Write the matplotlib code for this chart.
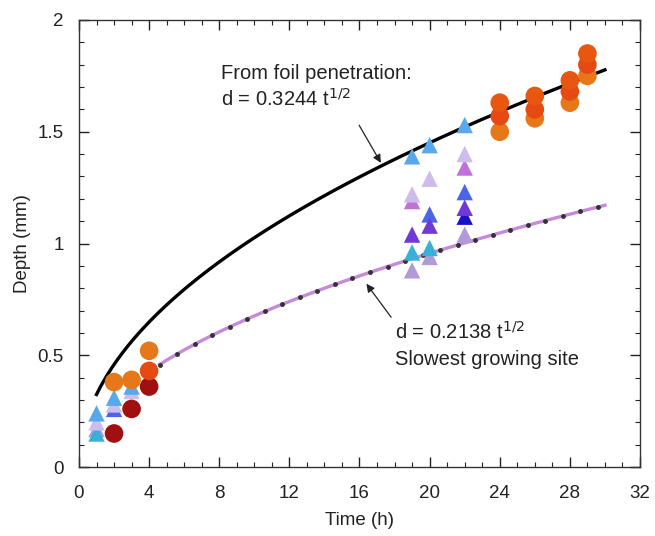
import numpy as np
import matplotlib.pyplot as plt
from matplotlib.ticker import MultipleLocator, FormatStrFormatter

plt.rcParams['font.family'] = ['Liberation Sans', 'DejaVu Sans']

# fit coefficients (d = k * t^1/2)
k_foil = 0.3244
k_slow = 0.2138

# circles (foil data)
circ_dark_t = [2, 3, 4]
circ_dark_d = [0.15, 0.26, 0.36]
circ_red_t = [4, 24, 26, 28, 29]
circ_red_d = [0.43, 1.57, 1.60, 1.68, 1.80]
circ_orange_t = [2, 3, 4, 24, 26, 28, 29]
circ_orange_d = [0.38, 0.39, 0.52, 1.50, 1.56, 1.63, 1.75]
circ_top_t = [24, 26, 28, 29]
circ_top_d = [1.63, 1.66, 1.73, 1.85]

# triangles (site data)
tri_sky_t = [1, 2, 3, 19, 20, 22]
tri_sky_d = [0.24, 0.31, 0.36, 1.39, 1.44, 1.53]
tri_lilac_t = [1, 2, 3, 19, 20, 22]
tri_lilac_d = [0.20, 0.28, 0.34, 1.22, 1.29, 1.40]
tri_orchid_t = [19, 22]
tri_orchid_d = [1.19, 1.34]
tri_violet_t = [19, 20, 22]
tri_violet_d = [1.04, 1.08, 1.16]
tri_blue_t = [2, 20, 22]
tri_blue_d = [0.26, 1.13, 1.23]
tri_navy_t = [22]
tri_navy_d = [1.12]
tri_cyan_t = [1, 19, 20]
tri_cyan_d = [0.15, 0.96, 0.98]
tri_grey_t = [1, 19, 20, 22]
tri_grey_d = [0.17, 0.88, 0.94, 1.04]

fig = plt.figure(figsize=(6.55, 5.36), dpi=100)
ax = fig.add_axes([0.1206, 0.1287, 0.8565, 0.834])

# fitted curves
t1 = np.linspace(1, 30, 200)
ax.plot(t1, k_foil * np.sqrt(t1), color='black', lw=2.4, zorder=2)
t2 = np.linspace(4.6, 30, 200)
ax.plot(t2, k_slow * np.sqrt(t2), color='#c58ad8', lw=2.4, zorder=2)
t3 = np.arange(4.6, 30.1, 1.0)
ax.plot(t3, k_slow * np.sqrt(t3), ls='none', marker='o', ms=2.5,
        color='#333333', zorder=3)

tri = [
    (tri_grey_t, tri_grey_d, '#b09ad8'),
    (tri_cyan_t, tri_cyan_d, '#38b0d8'),
    (tri_navy_t, tri_navy_d, '#1a10c8'),
    (tri_blue_t, tri_blue_d, '#4a66e6'),
    (tri_violet_t, tri_violet_d, '#7038d4'),
    (tri_orchid_t, tri_orchid_d, '#c070d8'),
    (tri_lilac_t, tri_lilac_d, '#cdbcec'),
    (tri_sky_t, tri_sky_d, '#5aa8ec'),
]
for t, d, c in tri:
    ax.scatter(t, d, marker='^', s=140, color=c, edgecolors='none', zorder=4)

circ = [
    (circ_dark_t, circ_dark_d, '#a01010'),
    (circ_orange_t, circ_orange_d, '#e6781a'),
    (circ_red_t, circ_red_d, '#e64a12'),
    (circ_top_t, circ_top_d, '#e8560f'),
]
for t, d, c in circ:
    ax.scatter(t, d, marker='o', s=180, color=c, edgecolors='none', zorder=5)

# annotations
tc = '#222222'
ax.text(8.1, 1.735, 'From foil penetration:', fontsize=14.5, color=tc)
ax.text(8.1, 1.615, 'd = 0.3244 t$^{1/2}$', fontsize=14.5, color=tc)
ax.annotate('', xy=(17.3, 1.35), xytext=(15.9, 1.54),
            arrowprops=dict(arrowstyle='-|>', color=tc, lw=0.9,
                            mutation_scale=12))
ax.text(18.0, 0.575, 'd = 0.2138 t$^{1/2}$', fontsize=14.5, color=tc)
ax.text(18.0, 0.455, 'Slowest growing site', fontsize=14.5, color=tc)
ax.annotate('', xy=(16.3, 0.83), xytext=(17.9, 0.66),
            arrowprops=dict(arrowstyle='-|>', color=tc, lw=0.9,
                            mutation_scale=12))

ax.set_xlim(0, 32)
ax.set_ylim(0, 2)
ax.xaxis.set_major_locator(MultipleLocator(4))
ax.xaxis.set_minor_locator(MultipleLocator(1))
ax.yaxis.set_major_locator(MultipleLocator(0.5))
ax.yaxis.set_minor_locator(MultipleLocator(0.1))
ax.yaxis.set_major_formatter(FormatStrFormatter('%g'))
ax.tick_params(which='both', direction='in', top=True, right=True,
               labelsize=13.5, colors='#222222')
ax.tick_params(which='major', length=7, width=1)
ax.tick_params(axis='x', which='major', pad=13)
ax.tick_params(axis='y', which='major', pad=11)
ax.tick_params(which='minor', length=3.5, width=0.8)
for s in ax.spines.values():
    s.set_linewidth(1.0)
    s.set_color('#333333')

ax.set_xlabel('Time (h)', fontsize=13.5, color=tc, labelpad=7)
ax.set_ylabel('Depth (mm)', fontsize=13.5, color=tc, labelpad=5)

fig.savefig('out.png', dpi=100)
